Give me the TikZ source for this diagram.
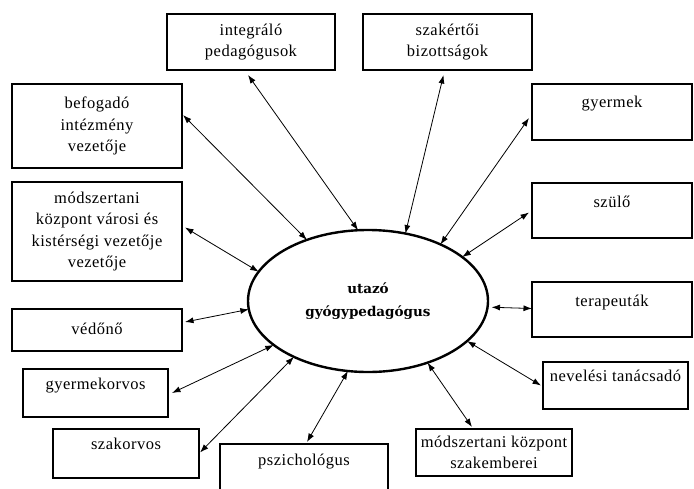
\documentclass[tikz,border=0pt]{standalone}
\usepackage{fontspec}
\setmainfont{Liberation Serif}[LetterSpace=3]
\newfontfamily\ellfont{DejaVu Serif}
\usetikzlibrary{arrows.meta,calc,shapes.geometric}
\begin{document}
\begin{tikzpicture}[x=1pt,y=-1pt,
  box/.style={draw, line width=1.8pt, rectangle, inner sep=0pt, outer sep=0pt,
    anchor=north west, font=\fontsize{16.5}{21.5}\selectfont},
  txtup/.style={text height=11pt, text depth=#1},
  conn/.style={<->, line width=0.8pt, >={Latex[length=8.5pt,width=6pt]}},
  hub/.style={draw, ellipse, line width=2.4pt, inner sep=0pt, outer sep=0pt,
    minimum width=240, minimum height=142, align=center,
    font=\ellfont\bfseries\fontsize{13.5}{23}\selectfont}
]
\useasboundingbox (0,0) rectangle (694,488);
\fill[white] (0,0) rectangle (694,488);

\node[hub] (ell) at (368,301) {utazó\\gyógypedagógus};

\node[box, minimum width=168, minimum height=56, align=center] (integ) at (167,14) {integráló\\pedagógusok};
\node[box, minimum width=169, minimum height=56, align=center] (szak) at (363,14) {szakértői\\bizottságok};
\node[box, minimum width=170, minimum height=84, align=center] (befog) at (12,84) {befogadó\\intézmény\\vezetője};
\node[box, minimum width=170, minimum height=99, align=center] (modsz) at (12,182) {módszertani\\központ városi és\\kistérségi vezetője\\vezetője};
\node[box, minimum width=170, minimum height=42, txtup=2pt] (vedo) at (12,309) {védőnő};
\node[box, minimum width=145, minimum height=48, txtup=18pt] (gyorv) at (23,369) {gyermekorvos};
\node[box, minimum width=146, minimum height=49, txtup=19pt] (szorv) at (53,429) {szakorvos};
\node[box, minimum width=168, minimum height=60, txtup=28pt] (pszi) at (220,444) {pszichológus};
\node[box, minimum width=156, minimum height=47, align=center] (modkp) at (416,429) {módszertani központ\\szakemberei};
\node[box, minimum width=145, minimum height=47, txtup=19pt] (nevel) at (543,362) {nevelési tanácsadó};
\node[box, minimum width=160, minimum height=55, txtup=17pt] (terap) at (532,282) {terapeuták};
\node[box, minimum width=160, minimum height=55, txtup=17pt] (szulo) at (532,183) {szülő};
\node[box, minimum width=160, minimum height=56, txtup=20pt] (gyerm) at (532,84) {gyermek};

\draw[conn] ($(integ.south)+(-3,5)$) -- (ell.98);
\draw[conn] ($(szak.south)+(-4,5)$) -- (ell.61);
\draw[conn] ($(befog.east)+(1,-11)$) -- (ell.135);
\draw[conn] ($(modsz.east)+(3,-4)$) -- (ell.165);
\draw[conn] ($(vedo.east)+(3,-8)$) -- (ell.184);
\draw[conn] ($(gyorv.east)+(4,0)$) -- (ell.205);
\draw[conn] ($(szorv.east)+(1,-1)$) -- (ell.217);
\draw[conn] ($(pszi.north)+(3,-2)$) -- (ell.254);
\draw[conn] ($(modkp.north)+(-22,-2)$) -- (ell.314);
\draw[conn] ($(nevel.west)+(-2,0)$) -- (ell.338);
\draw[conn] ($(terap.west)+(0,-1)$) -- ($(ell.357)+(4,0)$);
\draw[conn] ($(szulo.west)+(-3,2)$) -- (ell.25);
\draw[conn] ($(gyerm.west)+(-3,6)$) -- (ell.38);
\end{tikzpicture}
\end{document}
